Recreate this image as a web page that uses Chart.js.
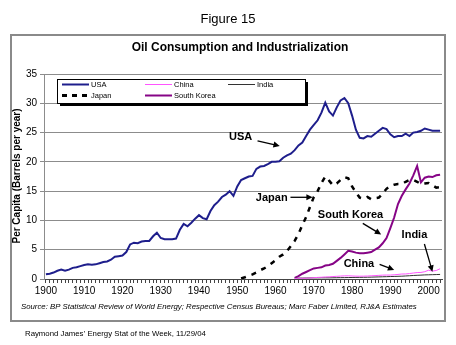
<!DOCTYPE html>
<html>
<head>
<meta charset="utf-8">
<script src="https://cdn.jsdelivr.net/npm/chart.js@4/dist/chart.umd.min.js"></script>
<style>
  html, body { margin: 0; padding: 0; background: #fff; }
  canvas { display: block; }
</style>
</head>
<body>
<canvas id="chart" width="456" height="345"></canvas>
<script>
// barrels of oil per person per year
const years = [];
for (let y = 1900; y <= 2003; y++) years.push(String(y));

const usa = [
  0.8, 0.9, 1.1, 1.4, 1.6, 1.4, 1.6, 1.9, 2.0, 2.2,
  2.4, 2.5, 2.45, 2.5, 2.7, 2.9, 3.0, 3.3, 3.8, 3.9,
  4.0, 4.6, 5.9, 6.2, 6.1, 6.4, 6.5, 6.5, 7.3, 7.9,
  7.0, 6.8, 6.8, 6.8, 6.9, 8.4, 9.4, 9.0, 9.6, 10.3,
  10.9, 10.4, 10.2, 11.6, 12.6, 13.2, 14.0, 14.4, 15.0, 14.2,
  15.8, 16.9, 17.2, 17.5, 17.6, 18.8, 19.2, 19.3, 19.6, 20.0,
  20.0, 20.1, 20.7, 21.1, 21.4, 22.0, 22.8, 23.3, 24.4, 25.5,
  26.3, 27.1, 28.4, 30.1, 28.6, 27.9, 29.3, 30.5, 30.9, 30.0,
  27.9, 25.5, 24.1, 24.0, 24.4, 24.3, 24.8, 25.3, 25.8, 25.6,
  24.7, 24.2, 24.4, 24.4, 24.8, 24.4, 25.0, 25.1, 25.3, 25.7,
  25.5, 25.3, 25.3, 25.3
];

const japanFrom = 1951;
const japan = [
  0.1, 0.3, 0.55, 0.8,
  1.1, 1.5, 1.8, 2.2, 2.7,
  3.2, 3.8, 4.2, 4.8, 5.6,
  6.5, 7.7, 9.2, 10.6, 12.3,
  14.0, 15.0, 16.4, 17.5, 16.8,
  16.0, 16.3, 16.9, 17.4, 17.2,
  15.8, 14.8, 13.9, 13.7, 14.0,
  13.6, 13.8, 13.9, 14.6, 15.4,
  15.9, 16.1, 16.2, 16.2, 16.6,
  16.9, 16.9, 16.6, 16.2, 16.3,
  16.4, 16.0, 15.6, 15.7
];

const koreaFrom = 1965;
const korea = [
  0.2, 0.5, 0.9, 1.2, 1.5,
  1.8, 1.9, 2.0, 2.3, 2.4,
  2.6, 3.1, 3.6, 4.2, 4.8,
  4.7, 4.5, 4.4, 4.4, 4.5,
  4.6, 5.0, 5.4, 6.1, 7.0,
  8.7, 10.5, 12.8, 14.2, 15.3,
  16.3, 17.7, 19.3, 16.5, 17.3,
  17.5, 17.4, 17.7, 17.8
];

const chinaFrom = 1965;
const china = [
  0.10, 0.12, 0.12, 0.13, 0.17,
  0.22, 0.27, 0.30, 0.35, 0.37,
  0.42, 0.46, 0.50, 0.54, 0.55,
  0.52, 0.49, 0.48, 0.49, 0.51,
  0.55, 0.58, 0.62, 0.66, 0.68,
  0.67, 0.72, 0.78, 0.85, 0.86,
  0.93, 1.02, 1.10, 1.12, 1.25,
  1.50, 1.35, 1.45, 1.75
];

const indiaFrom = 1965;
const india = [
  0.15, 0.15, 0.16, 0.17, 0.18,
  0.19, 0.19, 0.20, 0.20, 0.20,
  0.21, 0.22, 0.23, 0.24, 0.25,
  0.26, 0.27, 0.28, 0.29, 0.30,
  0.32, 0.34, 0.36, 0.38, 0.40,
  0.42, 0.44, 0.46, 0.48, 0.52,
  0.56, 0.60, 0.63, 0.66, 0.70,
  0.72, 0.74, 0.76, 0.78
];

const yMax = 35;
const yStep = 5;
const labelEvery = 10;

// series that start late get leading gaps
function fromYear(start, values) {
  return years.map(y => {
    const i = Number(y) - start;
    return i >= 0 && i < values.length ? values[i] : null;
  });
}

const FONT = '"Liberation Sans", Arial, sans-serif';

const series = [
  { label: 'USA', data: usa, color: '#1e1e8c', width: 2 },
  { label: 'China', data: fromYear(chinaFrom, china), color: '#ff55ff', width: 1 },
  { label: 'India', data: fromYear(indiaFrom, india), color: '#333333', width: 1 },
  { label: 'Japan', data: fromYear(japanFrom, japan), color: '#000000', width: 2.5, dash: [5, 6] },
  { label: 'South Korea', data: fromYear(koreaFrom, korea), color: '#860486', width: 2 }
];

// callouts: text centre, then arrow from/to, all in [year, value]
const notes = [
  { text: 'USA', at: [1950.9, 24.2], from: [1955.3, 23.6], to: [1961.1, 22.7] },
  { text: 'Japan', at: [1959.0, 13.9], from: [1963.9, 13.95], to: [1969.7, 13.95] },
  { text: 'South Korea', at: [1979.6, 10.9], from: [1982.8, 9.5], to: [1987.6, 7.6] },
  { text: 'India', at: [1996.3, 7.45], from: [1998.9, 5.97], to: [2001.0, 1.25] },
  { text: 'China', at: [1981.8, 2.5], from: [1987.2, 2.5], to: [1991.0, 1.54] }
];

function arrow(ctx, x1, y1, x2, y2) {
  const a = Math.atan2(y2 - y1, x2 - x1);
  ctx.beginPath();
  ctx.moveTo(x1, y1);
  ctx.lineTo(x2 - 5 * Math.cos(a), y2 - 5 * Math.sin(a));
  ctx.stroke();
  ctx.beginPath();
  ctx.moveTo(x2, y2);
  ctx.lineTo(x2 - 7 * Math.cos(a - 0.45), y2 - 7 * Math.sin(a - 0.45));
  ctx.lineTo(x2 - 7 * Math.cos(a + 0.45), y2 - 7 * Math.sin(a + 0.45));
  ctx.closePath();
  ctx.fill();
}

const decor = {
  id: 'decor',
  beforeDraw(chart) {
    const ctx = chart.ctx;
    ctx.save();
    ctx.fillStyle = '#fff';
    ctx.fillRect(0, 0, chart.width, chart.height);
    ctx.strokeStyle = '#8a8a8a';
    ctx.lineWidth = 2;
    ctx.strokeRect(11, 35, 434, 286);

    ctx.fillStyle = '#000';
    ctx.textAlign = 'center';
    ctx.textBaseline = 'middle';
    ctx.font = '13px ' + FONT;
    ctx.fillText('Figure 15', 228, 19);
    ctx.font = 'bold 12px ' + FONT;
    ctx.fillText('Oil Consumption and Industrialization', 240, 47.5);

    ctx.save();
    ctx.translate(17, 176);
    ctx.rotate(-Math.PI / 2);
    ctx.font = 'bold 10px ' + FONT;
    ctx.fillText('Per Capita (Barrels per year)', 0, 0);
    ctx.restore();

    ctx.textAlign = 'left';
    ctx.font = 'italic 7.8px ' + FONT;
    ctx.fillText('Source: BP Statistical Review of World Energy; Respective Census Bureaus; Marc Faber Limited, RJ&A Estimates', 21, 306.5);
    ctx.font = '7.8px ' + FONT;
    ctx.fillText('Raymond James\u2019 Energy Stat of the Week, 11/29/04', 25, 334);
    ctx.restore();
  },
  afterDraw(chart) {
    const ctx = chart.ctx;
    const xs = chart.scales.x, ys = chart.scales.y;
    const px = yr => xs.getPixelForValue(yr - 1900);
    const py = v => ys.getPixelForValue(v);
    ctx.save();

    // legend box with drop shadow
    const L = 57, T = 79, W = 248, H = 24;
    ctx.fillStyle = '#000';
    ctx.fillRect(L + 3, T + 3, W, H);
    ctx.fillStyle = '#fff';
    ctx.fillRect(L, T, W, H);
    ctx.strokeStyle = '#000';
    ctx.lineWidth = 1;
    ctx.strokeRect(L + 0.5, T + 0.5, W, H);

    const cols = [62, 145, 228];
    const rows = [84.5, 95.5];
    ctx.font = '7.5px ' + FONT;
    ctx.textBaseline = 'middle';
    ctx.textAlign = 'left';
    series.forEach((s, i) => {
      const cx = cols[i % 3], cy = rows[Math.floor(i / 3)];
      ctx.strokeStyle = s.color;
      ctx.lineWidth = s.dash ? 3 : s.width;
      ctx.setLineDash(s.dash ? [5, 5] : []);
      ctx.beginPath();
      ctx.moveTo(cx, cy);
      ctx.lineTo(cx + 27, cy);
      ctx.stroke();
      ctx.setLineDash([]);
      ctx.fillStyle = '#000';
      ctx.fillText(s.label, cx + 29, cy);
    });

    // callouts
    ctx.font = 'bold 11px ' + FONT;
    ctx.textAlign = 'center';
    ctx.fillStyle = '#000';
    ctx.strokeStyle = '#000';
    ctx.lineWidth = 1.3;
    notes.forEach(n => {
      ctx.fillText(n.text, px(n.at[0]), py(n.at[1]));
      arrow(ctx, px(n.from[0]), py(n.from[1]), px(n.to[0]), py(n.to[1]));
    });
    ctx.restore();
  }
};

new Chart(document.getElementById('chart'), {
  type: 'line',
  data: {
    labels: years,
    datasets: series.map(s => ({
      label: s.label,
      data: s.data,
      borderColor: s.color,
      borderWidth: s.width,
      borderDash: s.dash || [],
      pointRadius: 0,
      tension: 0,
      fill: false,
      spanGaps: false
    }))
  },
  options: {
    responsive: false,
    animation: false,
    events: [],
    layout: { padding: { left: 10, top: 74, right: 14, bottom: 46 } },
    plugins: {
      legend: { display: false },
      title: { display: false },
      tooltip: { enabled: false }
    },
    scales: {
      x: {
        offset: true,
        afterFit(scale) { scale.height = 20; },
        grid: { drawOnChartArea: false, tickLength: 4, color: '#444', offset: false },
        border: { color: '#444', width: 1 },
        ticks: {
          autoSkip: false,
          maxRotation: 0,
          padding: 2,
          color: '#000',
          font: { family: FONT, size: 10 },
          callback(v, i) { return Number(years[i]) % labelEvery === 0 ? years[i] : ''; }
        }
      },
      y: {
        min: 0,
        max: yMax,
        afterFit(scale) { scale.width = 34; },
        grid: { color: '#8c8c8c', tickLength: 4 },
        border: { color: '#8c8c8c' },
        ticks: {
          stepSize: yStep,
          padding: 3,
          color: '#000',
          font: { family: FONT, size: 10 }
        }
      }
    }
  },
  plugins: [decor]
});
</script>
</body>
</html>
